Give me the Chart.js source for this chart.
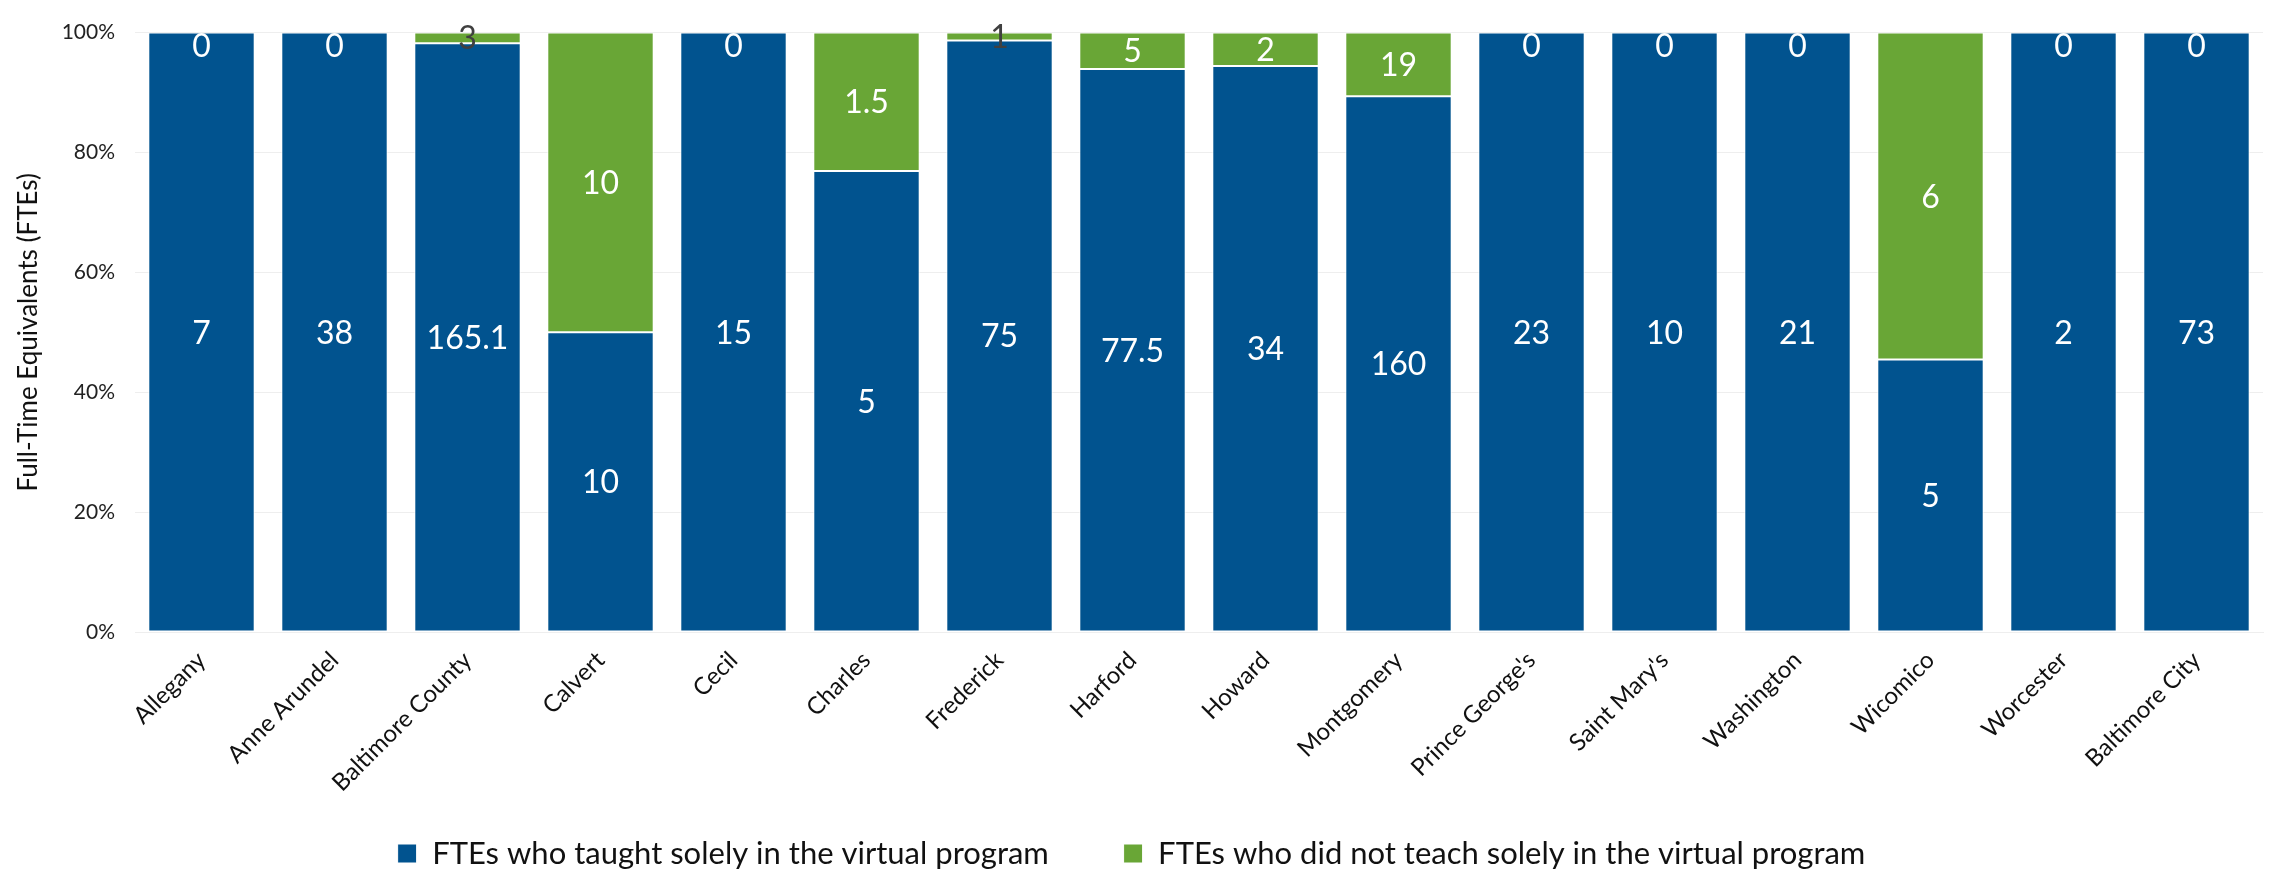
<!DOCTYPE html>
<html>
<head>
<meta charset="utf-8">
<script src="https://cdn.jsdelivr.net/npm/chart.js@4"></script>
<style>
  body { margin: 0; background: #fff; }
</style>
</head>
<body>
<canvas id="myChart" width="2279" height="879"></canvas>
<script>
const counties = ['Allegany', 'Anne Arundel', 'Baltimore County', 'Calvert', 'Cecil', 'Charles',
  'Frederick', 'Harford', 'Howard', 'Montgomery', "Prince George's", "Saint Mary's",
  'Washington', 'Wicomico', 'Worcester', 'Baltimore City'];
const soleVirtual = [7, 38, 165.1, 10, 15, 5, 75, 77.5, 34, 160, 23, 10, 21, 5, 2, 73];
const notSoleVirtual = [0, 0, 3, 10, 0, 1.5, 1, 5, 2, 19, 0, 0, 0, 6, 0, 0];
const yTicks = [0, 20, 40, 60, 80, 100];

const totals = soleVirtual.map((v, i) => v + notSoleVirtual[i]);
const pct = arr => arr.map((v, i) => v / totals[i] * 100);

// draws the value of each segment inside it
const segLabels = {
  id: 'segLabels',
  afterDatasetsDraw(chart) {
    const ctx = chart.ctx;
    ctx.save();
    ctx.font = '32px Lato';
    ctx.textAlign = 'center';
    ctx.textBaseline = 'alphabetic';
    chart.data.datasets.forEach((ds, di) => {
      const meta = chart.getDatasetMeta(di);
      meta.data.forEach((bar, i) => {
        const raw = ds.raw[i];
        const h = Math.abs(bar.base - bar.y);
        ctx.fillStyle = '#ffffff';
        let y;
        if (raw === 0) {
          y = bar.y + 24;
        } else {
          y = (bar.y + bar.base) / 2 + 11.5;
          if (h < 24) ctx.fillStyle = '#404040';
        }
        ctx.fillText(String(raw), bar.x, y);
      });
    });
    ctx.restore();
  }
};

new Chart(document.getElementById('myChart'), {
  type: 'bar',
  data: {
    labels: counties,
    datasets: [{
      label: 'FTEs who taught solely in the virtual program',
      data: pct(soleVirtual),
      raw: soleVirtual,
      backgroundColor: '#01538F',
      borderColor: '#ffffff',
      borderWidth: 1,
      borderSkipped: false,
      categoryPercentage: 1,
      barPercentage: 0.8
    }, {
      label: 'FTEs who did not teach solely in the virtual program',
      data: pct(notSoleVirtual),
      raw: notSoleVirtual,
      backgroundColor: '#69A636',
      borderColor: '#ffffff',
      borderWidth: 1,
      borderSkipped: false,
      categoryPercentage: 1,
      barPercentage: 0.8
    }]
  },
  options: {
    responsive: false,
    animation: false,
    layout: { padding: { top: 30, right: 16, left: 0, bottom: 0 } },
    plugins: {
      tooltip: { enabled: false },
      legend: {
        position: 'bottom',
        labels: {
          font: { family: 'Lato', size: 31 },
          color: '#111',
          boxWidth: 19,
          boxHeight: 19,
          padding: 43,
          // a bit more room between the two entries
          generateLabels(chart) {
            const items = Chart.defaults.plugins.legend.labels.generateLabels(chart);
            items[0].text += '    ';
            return items;
          }
        }
      }
    },
    scales: {
      x: {
        stacked: true,
        grid: { display: false },
        border: { color: '#eeeeee' },
        ticks: {
          font: { family: 'Lato', size: 24 },
          color: '#111',
          minRotation: 45,
          maxRotation: 45,
          padding: 6
        },
        afterFit(scale) {
          scale.height = scale.chart.height - 632 - scale.chart.legend.height;
        }
      },
      y: {
        stacked: true,
        min: 0,
        max: 100,
        afterBuildTicks(scale) {
          scale.ticks = yTicks.map(v => ({ value: v }));
        },
        grid: { color: '#eeeeee', drawTicks: false },
        border: { display: false },
        ticks: {
          font: { family: 'Lato', size: 21 },
          color: '#222',
          padding: 20,
          callback: v => v + '%'
        },
        title: {
          display: true,
          text: 'Full-Time Equivalents (FTEs)',
          font: { family: 'Lato', size: 26 },
          color: '#111',
          padding: { top: 13, bottom: 4 }
        },
        afterFit(scale) {
          scale.width = 135;
        }
      }
    }
  },
  plugins: [segLabels]
});
</script>
</body>
</html>
